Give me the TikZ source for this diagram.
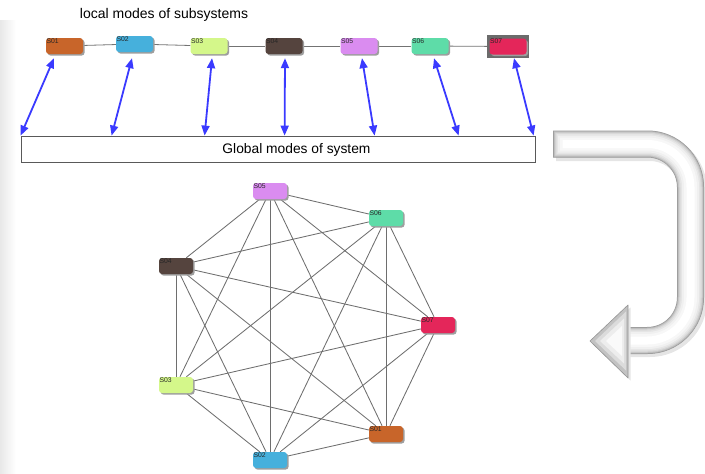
\documentclass[tikz,border=0pt]{standalone}
\usepackage{fontspec}
\setmainfont{Liberation Sans}
\usetikzlibrary{arrows.meta,shadows,calc,backgrounds}

\definecolor{mA}{RGB}{200,101,42}
\definecolor{mB}{RGB}{70,176,220}
\definecolor{mC}{RGB}{212,247,138}
\definecolor{mD}{RGB}{85,68,62}
\definecolor{mE}{RGB}{218,140,240}
\definecolor{mF}{RGB}{94,220,168}
\definecolor{mG}{RGB}{228,38,90}
\definecolor{arrowblue}{RGB}{58,58,255}

\begin{document}
\begin{tikzpicture}[x=1pt,y=-1pt,
  mode/.style={draw=none, rounded corners=3pt, minimum width=37pt,
    minimum height=16pt, inner sep=0pt,
    drop shadow={shadow xshift=1.6pt, shadow yshift=-1.6pt, fill=black!38, opacity=1}},
  gmode/.style={mode, minimum width=34pt},
  tag/.style={font=\fontsize{6.8}{7}\selectfont, text=black!85, anchor=north west, inner sep=0.6pt},
  link/.style={draw=black!55, line width=0.8pt},
  edge/.style={draw=black!57, line width=0.85pt},
  bi/.style={draw=arrowblue, line width=1.8pt,
    {Triangle[length=10pt,width=8pt]}-{Triangle[length=10pt,width=8pt]}},
  tube/.style={rounded corners=43pt, line cap=butt, line join=round},
]
\useasboundingbox (0,0) rectangle (705,474);

% soft shade along the left edge
\shade[left color=black!9, right color=white, draw=none] (0,20) rectangle (16,474);

% ---------- local modes ----------
\node[font=\fontsize{14}{16}\selectfont] (title) at (164,15) {local modes of subsystems};

\node[fill=black!58, minimum width=42pt, minimum height=23pt, inner sep=0pt] (sel) at (508,46.5) {};

\node[mode, fill=mA] (s1) at (64.5,46) {};
\node[mode, fill=mB] (s2) at (134.5,44) {};
\node[mode, fill=mC] (s3) at (209,46) {};
\node[mode, fill=mD] (s4) at (284,46) {};
\node[mode, fill=mE] (s5) at (359,46) {};
\node[mode, fill=mF] (s6) at (430,46) {};
\node[mode, fill=mG] (s7) at (508,46.5) {};

\node[tag] (t1) at (s1.north west) {S01};
\node[tag] (t2) at (s2.north west) {S02};
\node[tag] (t3) at (s3.north west) {S03};
\node[tag] (t4) at (s4.north west) {S04};
\node[tag] (t5) at (s5.north west) {S05};
\node[tag] (t6) at (s6.north west) {S06};
\node[tag] (t7) at (s7.north west) {S07};

\begin{scope}[on background layer]
  \draw[link] (s1) -- (s2);
  \draw[link] (s2) -- (s3);
  \draw[link] (s3) -- (s4);
  \draw[link] (s4) -- (s5);
  \draw[link] (s5) -- (s6);
  \draw[link] (s6) -- (sel);
\end{scope}

% ---------- global modes ----------
\node[draw=black!65, fill=white, line width=0.8pt, minimum width=514pt,
  minimum height=26pt, inner sep=0pt] (glob) at (278,149) {};
\node[font=\fontsize{13.8}{16}\selectfont] (globtxt) at (296.5,150) {Global modes of system};

\coordinate (u1) at ($(s1.south)+(-10.5,4)$);
\coordinate (u2) at ($(s2.south)+(-2.5,6)$);
\coordinate (u3) at ($(s3.south)+(3,4)$);
\coordinate (u4) at ($(s4.south)+(1,4)$);
\coordinate (u5) at ($(s5.south)+(3,4)$);
\coordinate (u6) at ($(s6.south)+(4,4)$);
\coordinate (u7) at ($(s7.south)+(6,3.5)$);

\coordinate (d1) at ($(glob.north west)+(0,0)$);
\coordinate (d2) at ($(glob.north west)+(91,0)$);
\coordinate (d3) at ($(glob.north west)+(184,0)$);
\coordinate (d4) at ($(glob.north west)+(264,0)$);
\coordinate (d5) at ($(glob.north west)+(354,0)$);
\coordinate (d6) at ($(glob.north west)+(438,0)$);
\coordinate (d7) at ($(glob.north west)+(513,0)$);

\foreach \i in {1,...,7} \draw[bi] (u\i) -- (d\i);

% ---------- turning arrow: a bevelled tube built from stacked strokes ----------
\draw[tube, line width=28pt, black!10] (556,147) -- (693,147) -- (693,343) -- (628,343);
\foreach \w/\c in {27/42, 26/30, 24.5/22, 22.5/15, 20/10, 17/6, 13/3, 8/0}
  \draw[tube, line width=\w pt, black!\c] (553+27/2-\w/2,144) -- (690.5,144) -- (690.5,340.5) -- (628,340.5);
% arrowhead
\fill[black!10] (592.5,344) -- (630.5,307.5) -- (630.5,380.5) -- cycle;
\filldraw[fill=black!24, draw=black!42, line width=0.6pt, line join=round] (590,341) -- (628,305) -- (628,378) -- cycle;
\fill[black!14] (595,341) -- (626,311.5) -- (626,370.5) -- cycle;
\fill[black!7] (600,341) -- (624,318.5) -- (624,363.5) -- cycle;
\fill[black!2] (606,341) -- (622,326) -- (622,356) -- cycle;

% ---------- complete graph of the global modes ----------
\node[gmode, fill=mE] (g5) at (270,191) {};
\node[gmode, fill=mF] (g6) at (386,218) {};
\node[gmode, fill=mD] (g4) at (176,266) {};
\node[gmode, fill=mG] (g7) at (438,325) {};
\node[gmode, fill=mC] (g3) at (176,385) {};
\node[gmode, fill=mA] (g1) at (386,434) {};
\node[gmode, fill=mB] (g2) at (270,460) {};

\node[tag] (h1) at (g1.north west) {S01};
\node[tag] (h2) at (g2.north west) {S02};
\node[tag] (h3) at (g3.north west) {S03};
\node[tag] (h4) at (g4.north west) {S04};
\node[tag] (h5) at (g5.north west) {S05};
\node[tag] (h6) at (g6.north west) {S06};
\node[tag] (h7) at (g7.north west) {S07};

\begin{scope}[on background layer]
  \foreach \a/\b in {1/2,1/3,1/4,1/5,1/6,1/7,2/3,2/4,2/5,2/6,2/7,
                     3/4,3/5,3/6,3/7,4/5,4/6,4/7,5/6,5/7,6/7}
    \draw[edge] (g\a) -- (g\b);
\end{scope}
\end{tikzpicture}
\end{document}
